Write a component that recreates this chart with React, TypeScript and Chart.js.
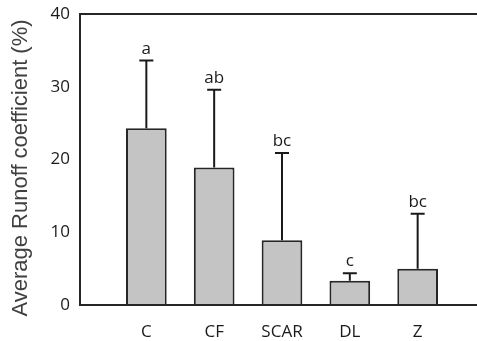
import React, { useEffect, useRef } from "react";
import { Chart, registerables } from "chart.js";

Chart.register(...registerables);

const categories = ["C", "CF", "SCAR", "DL", "Z"];
const means = [24.3, 18.9, 8.9, 3.35, 5.0];
const upperErrors = [33.6, 29.6, 20.9, 4.35, 12.55];
const letters = ["a", "ab", "bc", "c", "bc"];
const yTicks = [0, 10, 20, 30, 40];
const yTitle = "Average Runoff coefficient (%)";

const TICK_FONT = "'Open Sans', sans-serif";
const TITLE_FONT = "'Liberation Sans', Arial, sans-serif";

const overlayPlugin = {
  id: "overlay",
  afterDatasetsDraw(chart: any) {
    const { ctx, chartArea, scales } = chart;
    const y = scales.y;
    ctx.save();
    ctx.strokeStyle = "#262626";
    ctx.lineWidth = 2;
    ctx.beginPath();
    ctx.moveTo(chartArea.left, chartArea.top);
    ctx.lineTo(chartArea.right, chartArea.top);
    ctx.moveTo(chartArea.left, chartArea.top - 1);
    ctx.lineTo(chartArea.left, chartArea.bottom + 1);
    ctx.moveTo(chartArea.left - 1, chartArea.bottom);
    ctx.lineTo(chartArea.right, chartArea.bottom);
    ctx.stroke();

    const meta = chart.getDatasetMeta(0);
    meta.data.forEach((bar: any, i: number) => {
      const cx = bar.x;
      const yTop = y.getPixelForValue(upperErrors[i]);
      const yBar = y.getPixelForValue(means[i]);
      ctx.strokeStyle = "#1a1a1a";
      ctx.lineWidth = 2;
      ctx.beginPath();
      ctx.moveTo(cx, yBar);
      ctx.lineTo(cx, yTop);
      ctx.moveTo(cx - 7, yTop);
      ctx.lineTo(cx + 7, yTop);
      ctx.stroke();
      ctx.fillStyle = "#1a1a1a";
      ctx.font = `17px ${TICK_FONT}`;
      ctx.textAlign = "center";
      ctx.textBaseline = "alphabetic";
      ctx.fillText(letters[i], cx, yTop - 7);
    });

    ctx.fillStyle = "#404040";
    ctx.font = `22px ${TITLE_FONT}`;
    ctx.textAlign = "center";
    ctx.textBaseline = "middle";
    ctx.translate(21, 168);
    ctx.rotate(-Math.PI / 2);
    ctx.fillText(yTitle, 0, 0);
    ctx.restore();
  },
};

export default function App() {
  const canvasRef = useRef<HTMLCanvasElement | null>(null);

  useEffect(() => {
    document.body.style.margin = "0";
    const canvas = canvasRef.current;
    if (!canvas) return;
    const chart = new Chart(canvas, {
      type: "bar",
      data: {
        datasets: [
          {
            data: categories.map((_, i) => ({ x: i, y: means[i] })),
            backgroundColor: "#c4c4c4",
            borderColor: "#262626",
            borderWidth: 2,
            borderSkipped: "bottom",
            categoryPercentage: 1,
            barPercentage: 0.6,
          },
        ],
      },
      options: {
        animation: false,
        responsive: false,
        maintainAspectRatio: false,
        layout: { padding: { top: 14, right: 0, left: 0, bottom: 0 } },
        plugins: {
          legend: { display: false },
          tooltip: { enabled: false },
        },
        scales: {
          x: {
            type: "linear",
            offset: false,
            min: -0.978,
            max: 4.875,
            grid: { display: false, drawTicks: false },
            border: { display: false },
            afterBuildTicks: (scale: any) => {
              scale.ticks = categories.map((_, i) => ({ value: i }));
            },
            afterFit: (scale: any) => {
              scale.height = 36;
              scale.paddingLeft = 0;
              scale.paddingRight = 0;
            },
            ticks: {
              autoSkip: false,
              maxRotation: 0,
              padding: 17,
              color: "#1a1a1a",
              font: { family: TICK_FONT, size: 17 },
              callback: (v: any) => categories[Math.round(Number(v))] ?? "",
            },
          },
          y: {
            min: 0,
            max: 40,
            grid: { display: false, drawTicks: false },
            border: { display: false },
            afterBuildTicks: (scale: any) => {
              scale.ticks = yTicks.map((v) => ({ value: v }));
            },
            afterFit: (scale: any) => {
              scale.width = 80;
              scale.paddingTop = 0;
              scale.paddingBottom = 0;
            },
            ticks: {
              padding: 10,
              color: "#1a1a1a",
              font: { family: TICK_FONT, size: 17 },
            },
          },
        },
      },
      plugins: [overlayPlugin],
    });
    return () => chart.destroy();
  }, []);

  return (
    <div style={{ position: "absolute", left: 0, top: 0, width: 477, height: 341 }}>
      <canvas ref={canvasRef} width={477} height={341} style={{ width: 477, height: 341 }} />
    </div>
  );
}
